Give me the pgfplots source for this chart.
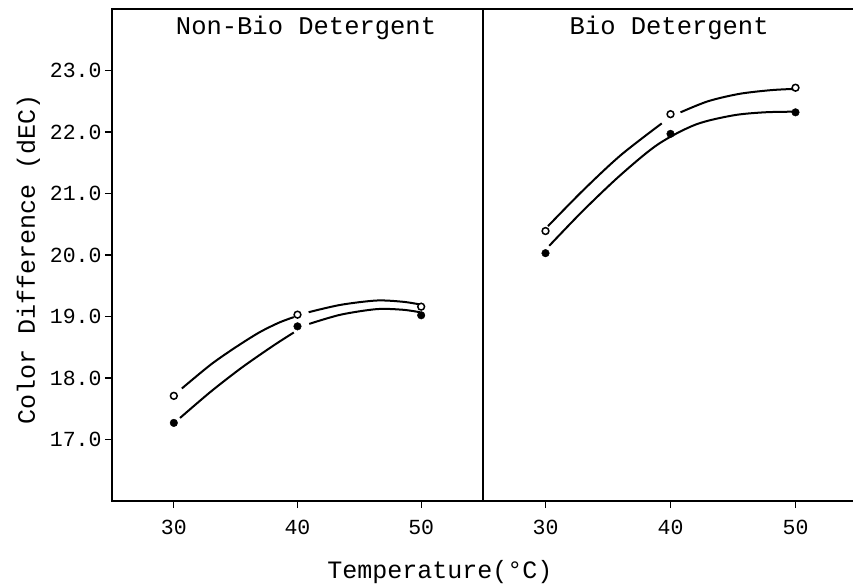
\documentclass[border=0pt]{standalone}
\usepackage{pgfplots}
\pgfplotsset{compat=1.18}
\usepackage{fontspec}
\setmainfont{Liberation Mono}
\pgfplotsset{
  panel/.style={
    scale only axis, width=371pt, height=492pt,
    ymin=16, ymax=24, xmin=25, xmax=55,
    xtick={30,40,50},
    tick align=outside, major tick length=7pt,
    axis line style={line width=1.9pt},
    every tick/.style={line width=1.3pt, black},
    tick label style={font=\fontsize{21.5}{21.5}\selectfont},
    /pgf/number format/assume math mode=true,
    xticklabel style={yshift=-9pt},
    xtick pos=bottom,
    ytick pos=left,
  },
  curve/.style={black, line width=2pt, smooth, no marks},
  openm/.style={only marks, mark=o, mark size=3.4pt, mark options={line width=1.5pt, black}},
  fillm/.style={only marks, mark=*, mark size=3.8pt, mark options={black, fill=black}},
}
\begin{document}
\begin{tikzpicture}
\useasboundingbox (-112pt,-86pt) rectangle (741pt,501pt);
\begin{axis}[panel, at={(0pt,0pt)}, anchor=south west,
  ytick={17,18,19,20,21,22,23},
  yticklabel style={/pgf/number format/.cd, fixed, fixed zerofill, precision=1},
  ylabel={Color Difference (dEC)},
  ylabel style={font=\fontsize{25}{25}\selectfont, at={(axis description cs:-0.225,0.49)}, anchor=center},
  xlabel={Temperature(°C)},
  xlabel style={font=\fontsize{25}{25}\selectfont, at={(axis description cs:0.884,-0.145)}, anchor=center},
  title={Non-Bio Detergent},
  title style={font=\fontsize{25.5}{25.5}\selectfont, at={(axis description cs:0.523,0.949)}, anchor=center},
]
\addplot[openm] coordinates {(30,17.71) (40,19.03) (50,19.16)};
\addplot[fillm] coordinates {(30,17.27) (40,18.84) (50,19.02)};
\addplot[curve] coordinates {(30.65,17.83) (33,18.22) (35,18.50) (36.9,18.74) (38.5,18.90) (39.7,18.99)};
\addplot[curve] coordinates {(40.9,19.07) (43.5,19.19) (46.4,19.26) (48.5,19.24) (49.8,19.20)};
\addplot[curve] coordinates {(30.5,17.35) (33,17.78) (35.5,18.17) (38,18.52) (39.7,18.74)};
\addplot[curve] coordinates {(40.95,18.88) (43.5,19.03) (46.4,19.12) (48.5,19.11) (49.9,19.07)};
\end{axis}
\begin{axis}[panel, at={(371pt,0pt)}, anchor=south west, width=370pt,
  xmin=25, xmax=54.6,
  ytick=\empty,
  axis y line*=left,
  title={Bio Detergent},
  title style={font=\fontsize{25.5}{25.5}\selectfont, at={(axis description cs:0.503,0.949)}, anchor=center},
]
\addplot[openm] coordinates {(30,20.39) (40,22.29) (50,22.72)};
\addplot[fillm] coordinates {(30,20.03) (40,21.97) (50,22.32)};
\addplot[curve] coordinates {(30.2,20.47) (33,21.05) (36,21.62) (39.3,22.14)};
\addplot[curve] coordinates {(40.8,22.32) (43,22.50) (45.5,22.62) (48,22.68) (49.8,22.70)};
\addplot[curve] coordinates {(30.3,20.15) (33,20.72) (36,21.30) (39,21.80) (42,22.12) (45,22.27) (47.5,22.32) (49.7,22.33)};
\end{axis}
\end{tikzpicture}
\end{document}
